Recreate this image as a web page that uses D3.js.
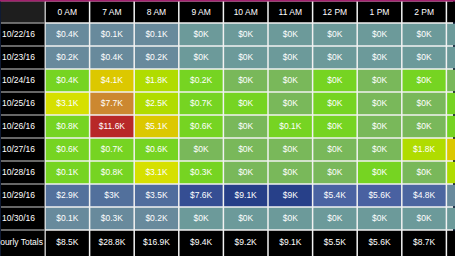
<!DOCTYPE html>
<html>
<head>
<meta charset="utf-8">
<script src="https://cdn.jsdelivr.net/npm/d3@7"></script>
<style>
  body { margin: 0; background: #0f1a33; overflow: hidden; }
  svg text { font-family: "Liberation Sans", Arial, sans-serif; font-size: 8.5px; fill: #fff; }
</style>
</head>
<body>
<div id="heatmap"></div>
<script>
var W = 455, H = 256;

// hours across the top (last column is cut off by the frame)
var hours = ["0 AM", "7 AM", "8 AM", "9 AM", "10 AM", "11 AM", "12 PM", "1 PM", "2 PM", "3 PM"];
var dates = ["10/22/16", "10/23/16", "10/24/16", "10/25/16", "10/26/16", "10/27/16", "10/28/16", "10/29/16", "10/30/16"];
var totalsLabel = "Hourly Totals";

// sales in $K per date (rows) and hour (columns)
var d1022 = [0.4, 0.1, 0.1, 0, 0, 0, 0, 0, 0, 0];
var d1023 = [0.2, 0.4, 0.2, 0, 0, 0, 0, 0, 0, 0];
var d1024 = [0.4, 4.1, 1.8, 0.2, 0, 0, 0.02, 0, 0.02, 0];
var d1025 = [3.1, 7.7, 2.5, 0.7, 0.02, 0, 0.02, 0, 0, 0.02];
var d1026 = [0.8, 11.6, 5.1, 0.6, 0, 0.1, 0.02, 0, 0, 0.02];
var d1027 = [0.6, 0.7, 0.6, 0, 0, 0, 0, 0, 1.8, 4.3];
var d1028 = [0.1, 0.8, 3.1, 0.3, 0, 0, 0, 0.02, 0, 2.1];
var d1029 = [2.9, 3, 3.5, 7.6, 9.1, 9, 5.4, 5.6, 4.8, 0.1];
var d1030 = [0.1, 0.3, 0.2, 0, 0, 0, 0, 0, 0, 0];
var hourlyTotals = [8.5, 28.8, 16.9, 9.4, 9.2, 9.1, 5.5, 5.6, 8.7, 6.8];

var rows = [d1022, d1023, d1024, d1025, d1026, d1027, d1028, d1029, d1030];

var fmt = d3.format(".1~f");
function money(v) { return "$" + fmt(v) + "K"; }

// weekday colours step from green to red, weekend ones go blue
var weekdayColor = d3.scaleThreshold()
    .domain([0.001, 1.5, 3, 4, 6, 10])
    .range(["#79b85a", "#76d422", "#b0dc00", "#d6e000", "#dcc800", "#cc8830", "#b82828"]);

var weekendColor = d3.scaleLinear()
    .domain([0.4, 3, 5.5, 9.1])
    .range(["#688a9c", "#52709c", "#4a62a2", "#263f88"])
    .clamp(true);

var parseDate = d3.timeParse("%m/%d/%y");

function cellColor(date, v) {
    var day = parseDate(date).getDay();
    var weekend = (day === 0 || day === 6);
    if (weekend) return v === 0 ? "#6c9a9a" : weekendColor(v);
    return weekdayColor(v);
}

var labelW = 45;
var headerH = 23;

var x = d3.scaleBand()
    .domain(hours)
    .range([labelW, labelW + hours.length * 44.6]);

var y = d3.scaleBand()
    .domain(dates.concat([totalsLabel]))
    .range([headerH, headerH + 10 * 23]);

// only the columns whose middle is inside the frame get a text
function visible(h) { return x(h) + x.bandwidth() / 2 < W; }

var svg = d3.select("#heatmap").append("svg")
    .attr("width", W)
    .attr("height", H);

// grid lines are the background showing between cells
svg.append("rect")
    .attr("x", 1).attr("y", 0)
    .attr("width", labelW).attr("height", H)
    .attr("fill", "#8a8a8a");

svg.append("rect")
    .attr("x", labelW).attr("y", 0)
    .attr("width", 453 - labelW).attr("height", H)
    .attr("fill", "#f2f2f2");

var gap = 0.75;

// header row
svg.append("rect")
    .attr("x", 1).attr("y", 1.5)
    .attr("width", labelW - 1 - gap).attr("height", headerH - 1.5 - gap)
    .attr("fill", "#1e1e1e");

var head = svg.selectAll(".head")
    .data(hours)
    .enter().append("g")
    .attr("class", "head");

head.append("rect")
    .attr("x", function (d) { return x(d) + gap; })
    .attr("y", 1.5)
    .attr("width", x.bandwidth() - 2 * gap)
    .attr("height", headerH - 1.5 - gap)
    .attr("fill", "#000");

head.filter(visible).append("text")
    .attr("x", function (d) { return x(d) + x.bandwidth() / 2; })
    .attr("y", 12)
    .attr("dy", "0.35em")
    .attr("text-anchor", "middle")
    .text(function (d) { return d; });

// row labels
var labels = svg.selectAll(".rowlabel")
    .data(dates.concat([totalsLabel]))
    .enter().append("g")
    .attr("class", "rowlabel");

labels.append("rect")
    .attr("x", 1)
    .attr("y", function (d) { return y(d) + gap; })
    .attr("width", labelW - 1 - gap)
    .attr("height", function (d) { return d === totalsLabel ? H - y(d) : y.bandwidth() - 2 * gap; })
    .attr("fill", "#000");

labels.append("text")
    .attr("x", 18.5)
    .attr("y", function (d) { return y(d) + y.bandwidth() / 2 + (d === totalsLabel ? 1 : 0); })
    .attr("dy", "0.35em")
    .attr("text-anchor", "middle")
    .text(function (d) { return d; });

// data cells
var cells = [];
rows.forEach(function (r, i) {
    r.forEach(function (v, j) {
        cells.push({date: dates[i], hour: hours[j], value: v});
    });
});

var cell = svg.selectAll(".cell")
    .data(cells)
    .enter().append("g")
    .attr("class", "cell");

cell.append("rect")
    .attr("x", function (d) { return x(d.hour) + gap; })
    .attr("y", function (d) { return y(d.date) + gap; })
    .attr("width", x.bandwidth() - 2 * gap)
    .attr("height", y.bandwidth() - 2 * gap)
    .attr("fill", function (d) { return cellColor(d.date, d.value); });

cell.filter(function (d) { return visible(d.hour); }).append("text")
    .attr("x", function (d) { return x(d.hour) + x.bandwidth() / 2; })
    .attr("y", function (d) { return y(d.date) + y.bandwidth() / 2; })
    .attr("dy", "0.35em")
    .attr("text-anchor", "middle")
    .text(function (d) { return money(d.value); });

// totals row
var tot = svg.selectAll(".total")
    .data(hourlyTotals)
    .enter().append("g")
    .attr("class", "total");

tot.append("rect")
    .attr("x", function (d, i) { return x(hours[i]) + gap; })
    .attr("y", y(totalsLabel) + gap)
    .attr("width", x.bandwidth() - 2 * gap)
    .attr("height", H - y(totalsLabel))
    .attr("fill", "#000");

tot.filter(function (d, i) { return visible(hours[i]); }).append("text")
    .attr("x", function (d, i) { return x(hours[i]) + x.bandwidth() / 2; })
    .attr("y", y(totalsLabel) + y.bandwidth() / 2 + 1)
    .attr("dy", "0.35em")
    .attr("text-anchor", "middle")
    .text(function (d) { return money(d); });

// magenta frame line at the top
svg.append("rect")
    .attr("x", 0).attr("y", 0)
    .attr("width", W).attr("height", 1.5)
    .attr("fill", "#a3206e");
</script>
</body>
</html>
